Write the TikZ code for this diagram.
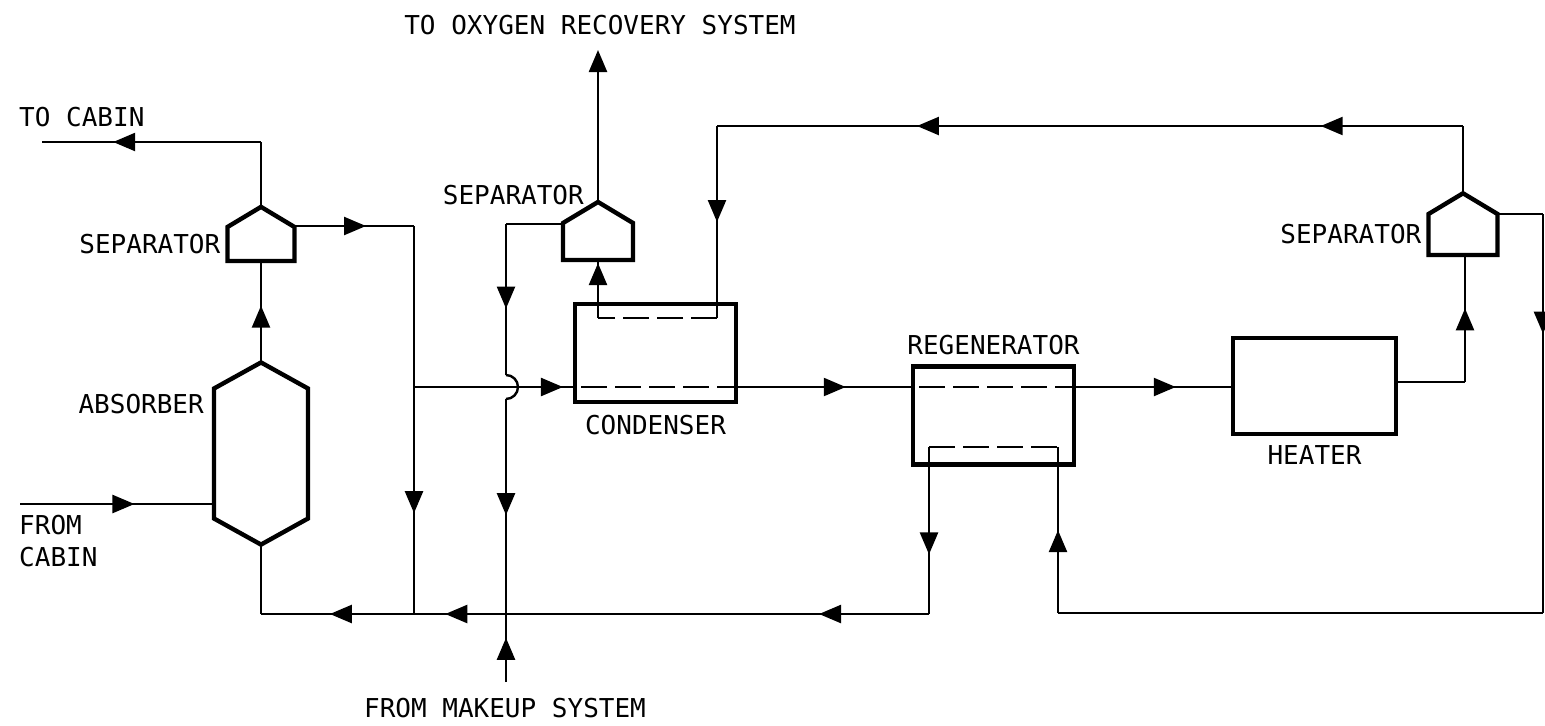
\documentclass[tikz,border=0pt]{standalone}
\usepackage{fontspec}
\setmainfont{DejaVu Sans Mono}
\usetikzlibrary{arrows.meta, decorations.markings, positioning, shapes.symbols}

\tikzset{
    flow/.style={postaction={decorate}, decoration={markings, mark=at position #1 with {\arrow{Triangle[length=11pt, width=9pt]}}}},
    tipend/.style={-{Triangle[length=11pt, width=9pt]}},
    pipe/.style={line width=1.2pt},
    inner/.style={line width=1.2pt, dash pattern=on 13pt off 4pt},
    vessel/.style={draw, line width=2.2pt, inner sep=0pt, outer sep=0pt},
    sepbox/.style={vessel, signal, signal to=north, signal from=nowhere, signal pointer angle=118, minimum width=33.5pt, minimum height=17pt},
    tag/.style={font=\fontsize{13}{15}\selectfont, inner sep=0pt, align=left}
}

\begin{document}
\begin{tikzpicture}[x=0.5pt, y=-0.5pt, pipe, node distance=3pt]

\clip (0,0) rectangle (1545,725);

% vessels
\node [vessel, signal, signal to=north and south, signal from=nowhere, signal pointer angle=122, minimum width=47pt, minimum height=65pt] (absorber) at (261,453.5) {};
\node [sepbox] (sep1) at (261,244) {};
\node [sepbox, minimum width=35pt, minimum height=18.5pt] (sep2) at (598,241.5) {};
\node [sepbox, minimum width=34.5pt, minimum height=20.5pt] (sep3) at (1463,234.5) {};
\node [vessel, minimum width=80.5pt, minimum height=49pt] (cond) at (655.5,353) {};
\node [vessel, minimum width=80.5pt, minimum height=49pt] (regen) at (993.5,415.5) {};
\node [vessel, minimum width=81.5pt, minimum height=48pt] (heater) at (1314.5,386) {};

% labels
\node [tag] (t_oxygen) at (600,25) {TO OXYGEN RECOVERY SYSTEM};
\node [tag, anchor=west] (t_tocabin) at (18,117) {TO CABIN};
\node [tag, left=3pt of sep1] (t_sep1) {SEPARATOR};
\node [tag, anchor=east] (t_sep2) at (585,195) {SEPARATOR};
\node [tag, left=3pt of sep3] (t_sep3) {SEPARATOR};
\node [tag, anchor=east] (t_abs) at (205,404) {ABSORBER};
\node [tag, anchor=west] (t_fromcabin) at (18,541) {FROM\\[1pt]CABIN};
\node [tag, below=6pt of cond] (t_cond) {CONDENSER};
\node [tag, above=5pt of regen] (t_regen) {REGENERATOR};
\node [tag, below=5pt of heater] (t_heater) {HEATER};
\node [tag] (t_makeup) at (505,708) {FROM MAKEUP SYSTEM};

% junctions and free ends
\coordinate (in_cabin) at (20,504);
\coordinate (out_cabin) at (42,142);
\coordinate (c1) at (261,142);
\coordinate (s1r) at (294,226);
\coordinate (c2) at (414,226);
\coordinate (j_feed) at (414,387);
\coordinate (j_ret) at (414,614);
\coordinate (c_abs) at (261,614);
\coordinate (j_make) at (506,614);
\coordinate (in_make) at (506,682);
\coordinate (out_oxy) at (598,50);
\coordinate (s2l) at (563,224);
\coordinate (c3) at (506,224);
\coordinate (hop1) at (506,375);
\coordinate (hop2) at (506,399);
\coordinate (r1) at (929,465);
\coordinate (r2) at (929,447);
\coordinate (r3) at (1058,447);
\coordinate (r4) at (1058,465);
\coordinate (c_r1) at (929,614);
\coordinate (c_r4) at (1058,613);
\coordinate (h1) at (1396,382);
\coordinate (h2) at (1465,382);
\coordinate (h3) at (1465,255);
\coordinate (s3r) at (1497,214);
\coordinate (e1) at (1543,214);
\coordinate (e2) at (1543,613);
\coordinate (c4) at (1463,126);
\coordinate (mid) at (936,126);
\coordinate (c5) at (717,126);
\coordinate (d1) at (717,318);
\coordinate (d2) at (598,318);
\coordinate (d3) at (598,304);

% absorber loop
\draw[flow=0.59] (in_cabin) -- (in_cabin -| absorber.west);
\draw[flow=0.56] (absorber.north) -- (sep1.south);
\draw (sep1.north) -- (c1);
\draw[flow=0.675] (c1) -- (out_cabin);
\draw[flow=0.6] (s1r) -- (c2);
\draw[flow=0.74] (c2) -- (j_ret);
\draw (absorber.south) -- (c_abs);
\draw[flow=0.55] (j_ret) -- (c_abs);
\draw[flow=0.66] (j_make) -- (j_ret);
\draw[flow=0.26] (c_r1) -- (j_make);

% condenser side
\draw[flow=0.925] (j_feed) -- (j_feed -| cond.west);
\draw[inner] (j_feed -| cond.west) ++(6,0) -- (j_feed -| cond.east);
\draw[flow=0.62] (j_feed -| cond.east) -- (j_feed -| regen.west);
\draw[flow=0.93] (d3) -- (d3 |- sep2.south);
\draw[tipend] (sep2.north) -- (out_oxy);
\draw (s2l) -- (c3);
\draw[flow=0.56] (c3) -- (hop1);
\draw (hop1) arc[start angle=-90, end angle=90, radius=12];
\draw[flow=0.54] (hop2) -- (j_make);
\draw[flow=0.65] (in_make) -- (j_make);
\draw[flow=0.5] (c5) -- (d1);
\draw[inner] (d1) -- (d2);
\draw (d2) -- (d3);

% regenerator and heater
\draw[inner] (j_feed -| regen.west) ++(6,0) -- (j_feed -| regen.east);
\draw[flow=0.64] (j_feed -| regen.east) -- (j_feed -| heater.west);
\draw (r1) -- (r2);
\draw[inner] (r2) -- (r3);
\draw (r3) -- (r4);
\draw[flow=0.6] (r1) -- (c_r1);
\draw[flow=0.56] (c_r4) -- (r4);
\draw (e2) -- (c_r4);
\draw (h1) -- (h2);
\draw[flow=0.58] (h2) -- (h3);
\draw (s3r) -- (e1);
\draw[flow=0.3] (e1) -- (e2);
\draw (sep3.north) -- (c4);
\draw[flow=0.27] (c4) -- (mid);
\draw[flow=0.087] (mid) -- (c5);

\end{tikzpicture}
\end{document}
